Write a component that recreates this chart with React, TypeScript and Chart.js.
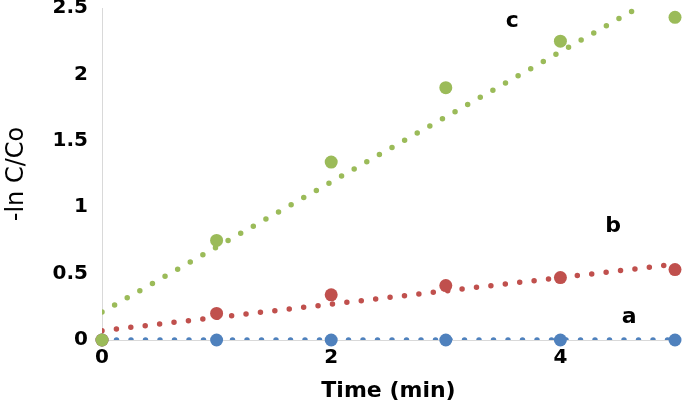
import React, { useEffect, useRef } from 'react';
import { Chart, registerables } from 'chart.js';

Chart.register(...registerables);

const timeMin = [0, 1, 2, 3, 4, 5];
const seriesA = [0, 0, 0, 0, 0, 0];
const seriesB = [0, 0.2, 0.34, 0.41, 0.47, 0.53];
const seriesC = [0, 0.75, 1.34, 1.9, 2.25, 2.43];
const trendX = [0, 5];
const trendA = [0, 0];
const trendB = [0.07, 0.57];
const trendC = [0.21, 2.66];
const xTickValues = [0, 2, 4];
const yTickValues = [0, 0.5, 1, 1.5, 2, 2.5];
const curveLabels = ['a', 'b', 'c'];
const curveLabelX = [4.6, 4.46, 3.58];
const curveLabelY = [0.13, 0.81, 2.36];
const colors = ['#4F81BD', '#C0504D', '#9BBB59'];

export default function App() {
  const ref = useRef<HTMLCanvasElement>(null);
  useEffect(() => {
    document.body.style.margin = '0';
    const pts = (ys: number[]) => timeMin.map((x, i) => ({ x, y: ys[i] }));
    const tr = (ys: number[]) => trendX.map((x, i) => ({ x, y: ys[i] }));
    const labelPlugin = {
      id: 'curveLabels',
      afterDatasetsDraw(chart: any) {
        const { ctx, scales } = chart;
        ctx.save();
        ctx.font = 'bold 22px "DejaVu Sans"';
        ctx.fillStyle = '#000';
        ctx.textAlign = 'center';
        ctx.textBaseline = 'alphabetic';
        curveLabels.forEach((t, i) =>
          ctx.fillText(t, scales.x.getPixelForValue(curveLabelX[i]), scales.y.getPixelForValue(curveLabelY[i]))
        );
        ctx.restore();
      },
    };
    const trend = (ys: number[], color: string, order: number) => ({
      data: tr(ys),
      showLine: true,
      borderColor: color,
      backgroundColor: color,
      borderWidth: 5.5,
      borderDash: [0, 14.5],
      borderCapStyle: 'round',
      pointRadius: 0,
      order,
    });
    const scatter = (ys: number[], color: string, order: number) => ({
      data: pts(ys),
      backgroundColor: color,
      borderColor: color,
      borderWidth: 0,
      pointRadius: 6.5,
      order,
      clip: false,
    });
    const chart = new Chart(ref.current as HTMLCanvasElement, {
      type: 'scatter',
      data: {
        datasets: [
          scatter(seriesC, colors[2], 0),
          scatter(seriesB, colors[1], 1),
          scatter(seriesA, colors[0], 2),
          trend(trendC, colors[2], 3),
          trend(trendB, colors[1], 4),
          trend(trendA, colors[0], 5),
        ] as any,
      },
      options: {
        animation: false,
        responsive: true,
        maintainAspectRatio: false,
        layout: { padding: { top: 8, right: 10, left: 0, bottom: 0 } },
        plugins: { legend: { display: false }, tooltip: { enabled: false } },
        scales: {
          x: {
            type: 'linear',
            min: 0,
            max: 5,
            afterBuildTicks: (s: any) => {
              s.ticks = xTickValues.map((v) => ({ value: v }));
            },
            afterFit: (s: any) => {
              s.height = 70;
            },
            grid: { display: false, drawTicks: false },
            border: { display: true, color: '#D9D9D9', width: 1 },
            ticks: {
              color: '#000',
              font: { family: 'DejaVu Sans', size: 20, weight: 'bold' },
              padding: 6,
              callback: (v: any) => String(v),
            },
            title: {
              display: true,
              text: 'Time (min)',
              color: '#000',
              font: { family: 'DejaVu Sans', size: 22, weight: 'bold' },
              padding: { top: 0, bottom: 6 },
            },
          },
          y: {
            type: 'linear',
            min: 0,
            max: 2.5,
            afterBuildTicks: (s: any) => {
              s.ticks = yTickValues.map((v) => ({ value: v }));
            },
            afterFit: (s: any) => {
              s.width = 102;
              s.paddingTop = 0;
              s.paddingBottom = 0;
            },
            grid: { display: false, drawTicks: false },
            border: { display: true, color: '#D9D9D9', width: 1 },
            ticks: {
              color: '#000',
              font: { family: 'DejaVu Sans', size: 20, weight: 'bold' },
              padding: 14,
              callback: (v: any) => String(v),
            },
            title: {
              display: true,
              text: '-ln C/Co',
              color: '#000',
              font: { family: 'DejaVu Sans', size: 24, weight: 'normal' },
              padding: { top: 2, bottom: 0 },
            },
          },
        },
      } as any,
      plugins: [labelPlugin],
    });
    return () => chart.destroy();
  }, []);
  return (
    <div style={{ width: 685, height: 410, position: 'relative' }}>
      <canvas ref={ref} />
    </div>
  );
}
